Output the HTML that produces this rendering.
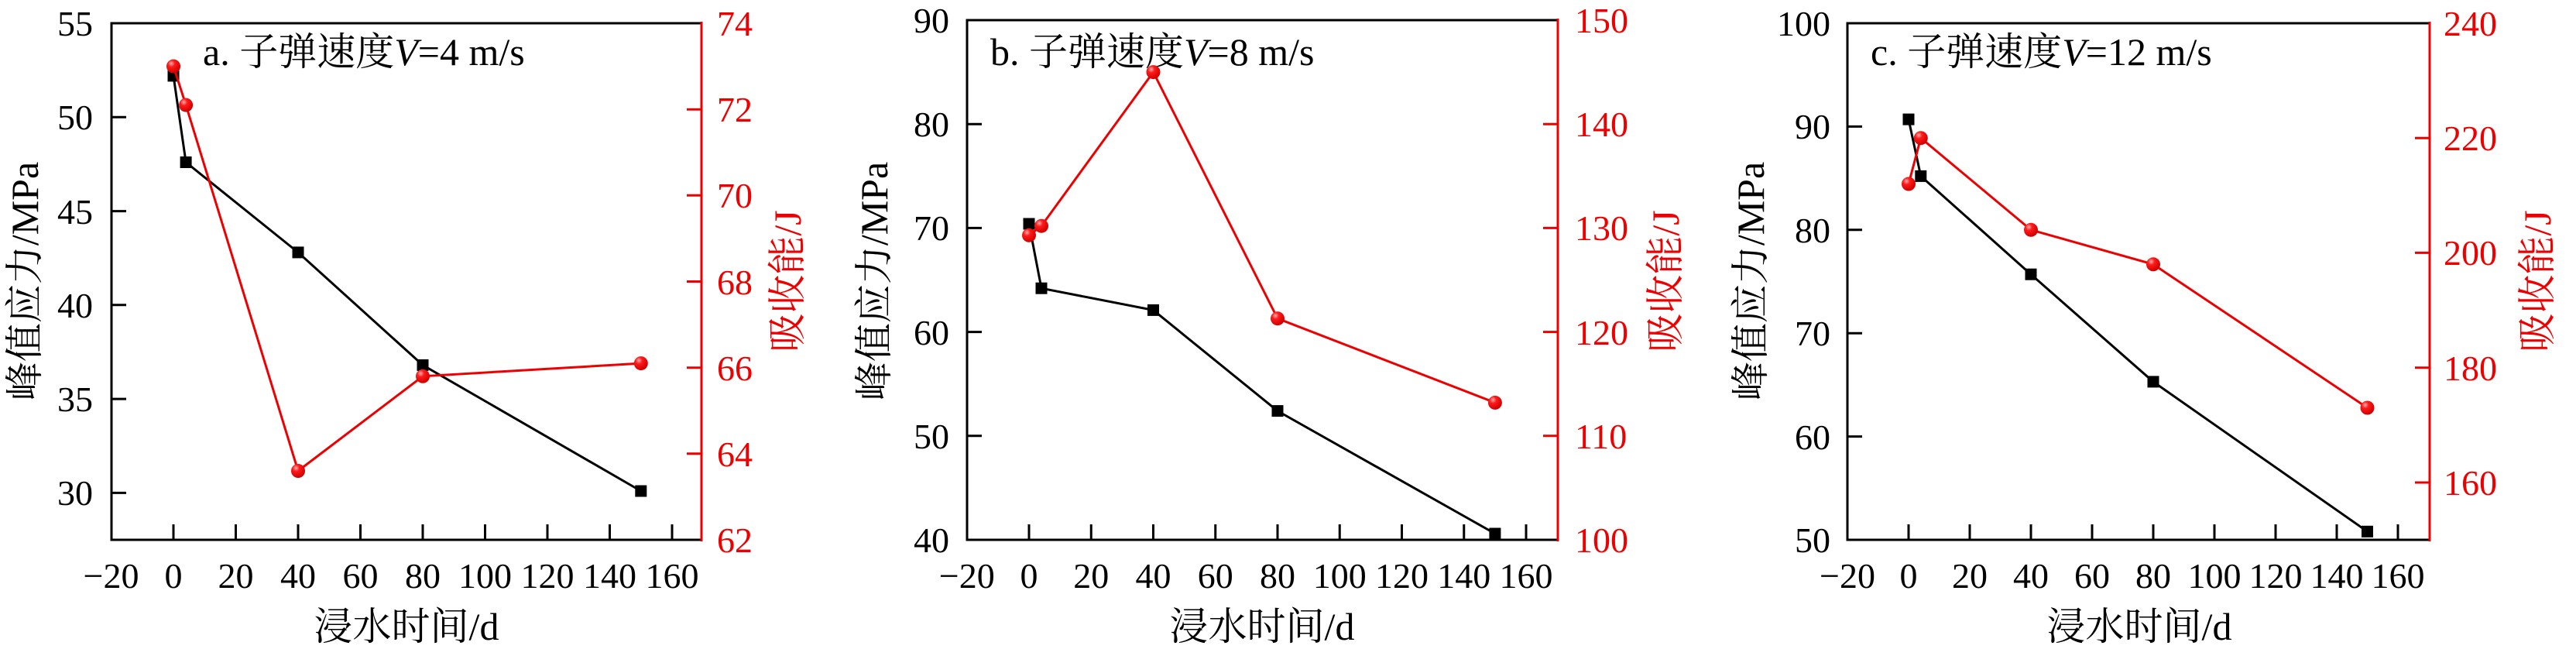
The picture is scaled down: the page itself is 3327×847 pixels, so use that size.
<!DOCTYPE html>
<html><head><meta charset="utf-8"><style>
html,body{margin:0;padding:0;background:#fff}
svg{display:block}
text{font-family:"Liberation Serif","Noto Serif CJK SC","Noto Sans CJK SC",serif}
.t{font-size:46px}
.r{fill:#ee0000}
.ti{font-size:50px}
</style></head><body>
<svg width="3327" height="847" viewBox="0 0 3327 847" xmlns="http://www.w3.org/2000/svg">
<defs>
<radialGradient id="g" cx="0.35" cy="0.3" r="0.7"><stop offset="0" stop-color="#ffb0b0"/><stop offset="0.35" stop-color="#ff1a1a"/><stop offset="1" stop-color="#d00000"/></radialGradient>
</defs>

<!-- ============ PANEL A ============ -->
<g>
<path d="M906,30 H144 V697 H906" fill="none" stroke="#000" stroke-width="3"/>
<line x1="906" y1="28" x2="906" y2="699" stroke="#ee0000" stroke-width="3"/>
<g stroke="#000" stroke-width="3">
<path d="M144,151.3h19M144,272.6h19M144,393.8h19M144,515.1h19M144,636.4h19"/>
<path d="M224,697v-20M304.5,697v-20M385,697v-20M465.5,697v-20M546,697v-20M626.5,697v-20M707,697v-20M787.5,697v-20M868,697v-20"/>
</g>
<g stroke="#ee0000" stroke-width="3">
<path d="M906,141.2h-19M906,252.3h-19M906,363.5h-19M906,474.7h-19M906,585.8h-19"/>
</g>
<g class="t" text-anchor="end">
<text x="120" y="46">55</text><text x="120" y="167">50</text><text x="120" y="289">45</text><text x="120" y="410">40</text><text x="120" y="531">35</text><text x="120" y="652">30</text>
</g>
<g class="t r">
<text x="926" y="46">74</text><text x="926" y="157">72</text><text x="926" y="268">70</text><text x="926" y="380">68</text><text x="926" y="491">66</text><text x="926" y="602">64</text><text x="926" y="713">62</text>
</g>
<g class="t" text-anchor="middle">
<text x="143.5" y="759">−20</text><text x="224" y="759">0</text><text x="304.5" y="759">20</text><text x="385" y="759">40</text><text x="465.5" y="759">60</text><text x="546" y="759">80</text><text x="626.5" y="759">100</text><text x="707" y="759">120</text><text x="787.5" y="759">140</text><text x="868" y="759">160</text>
</g>
<text class="ti" x="525" y="826" text-anchor="middle">浸水时间/d</text>
<text class="ti" transform="translate(49,363) rotate(-90)" text-anchor="middle">峰值应力/MPa</text>
<text class="ti r" transform="translate(1034,363) rotate(-90)" text-anchor="middle">吸收能/J</text>
<text class="ti" x="262" y="84">a. 子弹速度<tspan font-style="italic">V</tspan>=4 m/s</text>
<polyline points="224,97.9 240.1,209.5 385,325.9 546,471.4 827.8,634" fill="none" stroke="#000" stroke-width="3"/>
<g fill="#000"><rect x="216.5" y="90.4" width="15" height="15"/><rect x="232.6" y="202" width="15" height="15"/><rect x="377.5" y="318.4" width="15" height="15"/><rect x="538.5" y="463.9" width="15" height="15"/><rect x="820.3" y="626.5" width="15" height="15"/></g>
<polyline points="224,85.6 240.1,135.6 385,608 546,485.8 827.8,469.1" fill="none" stroke="#ee0000" stroke-width="3"/>
<g fill="url(#g)"><circle cx="224" cy="85.6" r="9"/><circle cx="240.1" cy="135.6" r="9"/><circle cx="385" cy="608" r="9"/><circle cx="546" cy="485.8" r="9"/><circle cx="827.8" cy="469.1" r="9"/></g>
</g>

<!-- ============ PANEL B ============ -->
<g>
<path d="M2012,26 H1249 V697 H2012" fill="none" stroke="#000" stroke-width="3"/>
<line x1="2012" y1="24" x2="2012" y2="699" stroke="#ee0000" stroke-width="3"/>
<g stroke="#000" stroke-width="3">
<path d="M1249,160.2h19M1249,294.4h19M1249,428.6h19M1249,562.8h19"/>
<path d="M1329,697v-20M1409.25,697v-20M1489.5,697v-20M1569.75,697v-20M1650,697v-20M1730.25,697v-20M1810.5,697v-20M1890.75,697v-20M1971,697v-20"/>
</g>
<g stroke="#ee0000" stroke-width="3">
<path d="M2012,160.2h-19M2012,294.4h-19M2012,428.6h-19M2012,562.8h-19"/>
</g>
<g class="t" text-anchor="end">
<text x="1226" y="42">90</text><text x="1226" y="176">80</text><text x="1226" y="310">70</text><text x="1226" y="445">60</text><text x="1226" y="579">50</text><text x="1226" y="713">40</text>
</g>
<g class="t r">
<text x="2034" y="42">150</text><text x="2034" y="176">140</text><text x="2034" y="310">130</text><text x="2034" y="445">120</text><text x="2034" y="579">110</text><text x="2034" y="713">100</text>
</g>
<g class="t" text-anchor="middle">
<text x="1248.75" y="759">−20</text><text x="1329" y="759">0</text><text x="1409.25" y="759">20</text><text x="1489.5" y="759">40</text><text x="1569.75" y="759">60</text><text x="1650" y="759">80</text><text x="1730.25" y="759">100</text><text x="1810.5" y="759">120</text><text x="1890.75" y="759">140</text><text x="1971" y="759">160</text>
</g>
<text class="ti" x="1630" y="826" text-anchor="middle">浸水时间/d</text>
<text class="ti" transform="translate(1146,363) rotate(-90)" text-anchor="middle">峰值应力/MPa</text>
<text class="ti r" transform="translate(2168,363) rotate(-90)" text-anchor="middle">吸收能/J</text>
<text class="ti" x="1279" y="84">b. 子弹速度<tspan font-style="italic">V</tspan>=8 m/s</text>
<polyline points="1329,289 1345,372.2 1489.5,400.4 1650,530.6 1930.9,689" fill="none" stroke="#000" stroke-width="3"/>
<g fill="#000"><rect x="1321.5" y="281.5" width="15" height="15"/><rect x="1337.5" y="364.7" width="15" height="15"/><rect x="1482" y="392.9" width="15" height="15"/><rect x="1642.5" y="523.1" width="15" height="15"/><rect x="1923.4" y="681.5" width="15" height="15"/></g>
<polyline points="1329,303.8 1345,291.7 1489.5,93.1 1650,411.2 1930.9,519.9" fill="none" stroke="#ee0000" stroke-width="3"/>
<g fill="url(#g)"><circle cx="1329" cy="303.8" r="9"/><circle cx="1345" cy="291.7" r="9"/><circle cx="1489.5" cy="93.1" r="9"/><circle cx="1650" cy="411.2" r="9"/><circle cx="1930.9" cy="519.9" r="9"/></g>
</g>

<!-- ============ PANEL C ============ -->
<g>
<path d="M3138,30 H2386 V697 H3138" fill="none" stroke="#000" stroke-width="3"/>
<line x1="3138" y1="28" x2="3138" y2="699" stroke="#ee0000" stroke-width="3"/>
<g stroke="#000" stroke-width="3">
<path d="M2386,163.4h19M2386,296.8h19M2386,430.2h19M2386,563.6h19"/>
<path d="M2465,697v-20M2544,697v-20M2623,697v-20M2702,697v-20M2781,697v-20M2860,697v-20M2939,697v-20M3018,697v-20M3097,697v-20"/>
</g>
<g stroke="#ee0000" stroke-width="3">
<path d="M3138,178.2h-19M3138,326.4h-19M3138,474.7h-19M3138,623h-19"/>
</g>
<g class="t" text-anchor="end">
<text x="2364" y="46">100</text><text x="2364" y="179">90</text><text x="2364" y="313">80</text><text x="2364" y="446">70</text><text x="2364" y="580">60</text><text x="2364" y="713">50</text>
</g>
<g class="t r">
<text x="3156" y="46">240</text><text x="3156" y="194">220</text><text x="3156" y="342">200</text><text x="3156" y="491">180</text><text x="3156" y="639">160</text>
</g>
<g class="t" text-anchor="middle">
<text x="2386" y="759">−20</text><text x="2465" y="759">0</text><text x="2544" y="759">20</text><text x="2623" y="759">40</text><text x="2702" y="759">60</text><text x="2781" y="759">80</text><text x="2860" y="759">100</text><text x="2939" y="759">120</text><text x="3018" y="759">140</text><text x="3097" y="759">160</text>
</g>
<text class="ti" x="2763" y="826" text-anchor="middle">浸水时间/d</text>
<text class="ti" transform="translate(2278,363) rotate(-90)" text-anchor="middle">峰值应力/MPa</text>
<text class="ti r" transform="translate(3294,363) rotate(-90)" text-anchor="middle">吸收能/J</text>
<text class="ti" x="2416" y="84">c. 子弹速度<tspan font-style="italic">V</tspan>=12 m/s</text>
<polyline points="2465,154.1 2480.8,227.4 2623,354.2 2781,492.9 3057.5,686.3" fill="none" stroke="#000" stroke-width="3"/>
<g fill="#000"><rect x="2457.5" y="146.6" width="15" height="15"/><rect x="2473.3" y="219.9" width="15" height="15"/><rect x="2615.5" y="346.7" width="15" height="15"/><rect x="2773.5" y="485.4" width="15" height="15"/><rect x="3050" y="678.8" width="15" height="15"/></g>
<polyline points="2465,237.5 2480.8,178.2 2623,296.8 2781,341.3 3057.5,526.5" fill="none" stroke="#ee0000" stroke-width="3"/>
<g fill="url(#g)"><circle cx="2465" cy="237.5" r="9"/><circle cx="2480.8" cy="178.2" r="9"/><circle cx="2623" cy="296.8" r="9"/><circle cx="2781" cy="341.3" r="9"/><circle cx="3057.5" cy="526.5" r="9"/></g>
</g>
</svg>
</body></html>
